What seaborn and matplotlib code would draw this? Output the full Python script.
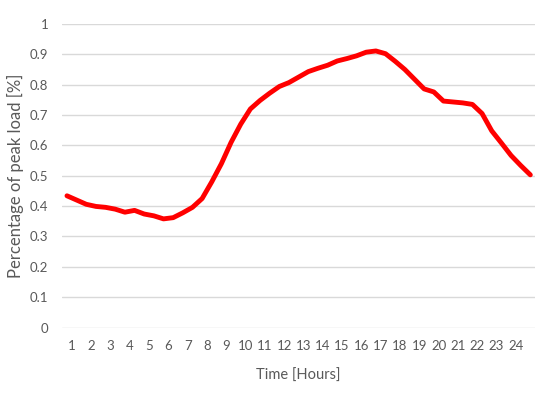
import pandas as pd
import matplotlib
matplotlib.use("Agg")
import matplotlib.pyplot as plt
import seaborn as sns

# half-hourly load profile, 49 points (0:00 .. 24:00)
load = [0.434, 0.420, 0.406, 0.399, 0.396, 0.390, 0.380, 0.386, 0.374, 0.368,
        0.358, 0.362, 0.378, 0.396, 0.425, 0.480, 0.540, 0.610, 0.670, 0.720,
        0.748, 0.772, 0.794, 0.807, 0.825, 0.843, 0.854, 0.864, 0.878, 0.886,
        0.895, 0.907, 0.911, 0.902, 0.877, 0.850, 0.818, 0.786, 0.776, 0.746,
        0.743, 0.740, 0.735, 0.705, 0.648, 0.608, 0.567, 0.534, 0.503]
hours = list(range(1, 25))

df = pd.DataFrame({"slot": range(len(load)), "load": load})

sns.set_style("white")
plt.rcParams['font.family'] = ['Lato', 'DejaVu Sans']

fig = plt.figure(figsize=(5.5, 3.99), dpi=100)
ax = fig.add_axes([0.113, 0.179, 0.86, 0.761])

sns.lineplot(data=df, x="slot", y="load", color="#ff0000", linewidth=3.5, ax=ax)

ax.set_xlim(-0.5, len(load) - 0.5)
ax.set_ylim(0, 1)
ax.set_yticks([i / 10 for i in range(11)])
ax.set_yticklabels(["0"] + [f"{i/10:.1f}" for i in range(1, 10)] + ["1"])
ax.set_xticks([2 * h - 1.5 for h in hours])
ax.set_xticklabels([str(h) for h in hours])

ax.grid(axis="y", color="#d9d9d9", linewidth=1)
ax.set_axisbelow(True)
for s in ax.spines.values():
    s.set_visible(False)
ax.tick_params(axis="both", length=0, labelsize=9.5, labelcolor="#595959")
ax.tick_params(axis="x", pad=9)
ax.tick_params(axis="y", pad=10)

ax.set_xlabel("Time [Hours]", fontsize=10.5, color="#595959", labelpad=12)
ax.set_ylabel("Percentage of peak load [%]", fontsize=12, color="#595959", labelpad=4)

fig.savefig("out.png", dpi=100)
